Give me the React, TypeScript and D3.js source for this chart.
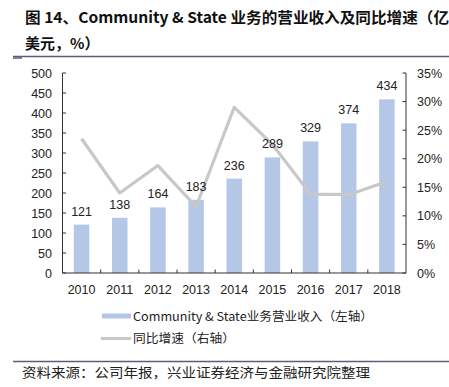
import React from "react";
import * as d3 from "d3";

const years = ["2010", "2011", "2012", "2013", "2014", "2015", "2016", "2017", "2018"];
const revenue = [121, 138, 164, 183, 236, 289, 329, 374, 434];
const growth = [23.5, 14.0, 18.8, 11.6, 29.0, 22.5, 13.8, 13.7, 16.0];
const leftTicks = [0, 50, 100, 150, 200, 250, 300, 350, 400, 450, 500];
const rightTicks = [0, 5, 10, 15, 20, 25, 30, 35];

const W = 449;
const H = 387;
const M = { left: 62.5, right: 406, top: 73, bottom: 273 };

export default function App() {
  const x = d3.scaleBand<string>().domain(years).range([M.left, M.right]).paddingInner(0).paddingOuter(0);
  const yL = d3.scaleLinear().domain([0, 500]).range([M.bottom, M.top]);
  const yR = d3.scaleLinear().domain([0, 35]).range([M.bottom, M.top]);
  const bw = 15.5;
  const cx = (d: string) => (x(d) as number) + x.bandwidth() / 2;
  const line = d3
    .line<number>()
    .x((_, i) => cx(years[i]))
    .y((d) => yR(d));
  const tickFont = "'Liberation Sans', Arial, sans-serif";
  const cjk = "'Noto Sans CJK SC', sans-serif";
  return (
    <svg width={W} height={H} style={{ position: "absolute", left: 0, top: 0, background: "#fff" }}>
      <text x={25} y={23} fontFamily={cjk} fontWeight="bold" fontSize={15} fill="#111" textLength={424} lengthAdjust="spacingAndGlyphs">
        图 14、Community &amp; State 业务的营业收入及同比增速（亿
      </text>
      <text x={25} y={49} fontFamily={cjk} fontWeight="bold" fontSize={15} fill="#111">
        美元，%）
      </text>
      <line x1={13} x2={W} y1={56.5} y2={56.5} stroke="#5c5c82" strokeWidth={1.3} />
      <line x1={13} x2={22} y1={58} y2={58} stroke="#5c5c82" strokeWidth={1.5} />

      {/* bars */}
      {revenue.map((v, i) => (
        <rect key={i} x={cx(years[i]) - bw / 2} y={yL(v)} width={bw} height={yL(0) - yL(v)} fill="#b4c7e7" />
      ))}
      <path d={line(growth) || ""} fill="none" stroke="#c8c8c8" strokeWidth={3.2} strokeLinejoin="round" />
      {revenue.map((v, i) => (
        <text key={"l" + i} x={cx(years[i])} y={yL(v) - 9} textAnchor="middle" fontFamily={tickFont} fontSize={12.5} fill="#222">
          {v}
        </text>
      ))}

      {/* axes */}
      <line x1={M.left} x2={M.left} y1={M.top} y2={M.bottom} stroke="#333" strokeWidth={1} />
      <line x1={M.right} x2={M.right} y1={M.top} y2={M.bottom} stroke="#333" strokeWidth={1} />
      <line x1={M.left} x2={M.right} y1={M.bottom} y2={M.bottom} stroke="#333" strokeWidth={1} />
      {leftTicks.map((t) => (
        <g key={"lt" + t}>
          <line x1={M.left} x2={M.left + 3.5} y1={yL(t)} y2={yL(t)} stroke="#333" />
          <text x={52} y={yL(t) + 4.5} textAnchor="end" fontFamily={tickFont} fontSize={12.5} fill="#222">
            {t}
          </text>
        </g>
      ))}
      {rightTicks.map((t) => (
        <g key={"rt" + t}>
          <line x1={M.right - 3.5} x2={M.right} y1={yR(t)} y2={yR(t)} stroke="#333" />
          <text x={417} y={yR(t) + 4.5} textAnchor="start" fontFamily={tickFont} fontSize={12.5} fill="#222">
            {t + "%"}
          </text>
        </g>
      ))}
      {years.slice(1).map((yr) => (
        <line key={"xt" + yr} x1={x(yr)} x2={x(yr)} y1={M.bottom - 3.5} y2={M.bottom} stroke="#333" />
      ))}
      {years.map((yr) => (
        <text key={"xl" + yr} x={cx(yr)} y={294} textAnchor="middle" fontFamily={tickFont} fontSize={12.5} fill="#222">
          {yr}
        </text>
      ))}

      {/* legend */}
      <rect x={102} y={313.5} width={29} height={5} fill="#b4c7e7" />
      <text x={133} y={321} fontFamily={cjk} fontSize={12} fill="#222" textLength={240} lengthAdjust="spacingAndGlyphs">
        Community &amp; State业务营业收入（左轴）
      </text>
      <line x1={101} x2={131} y1={338.5} y2={338.5} stroke="#c8c8c8" strokeWidth={3} />
      <text x={133} y={343} fontFamily={cjk} fontSize={12} fill="#222" textLength={102} lengthAdjust="spacingAndGlyphs">
        同比增速（右轴）
      </text>

      {/* footer */}
      <line x1={13} x2={W} y1={361.5} y2={361.5} stroke="#5c5c82" strokeWidth={1.3} />
      <text x={22} y={377} fontFamily={cjk} fontSize={13} fill="#222" textLength={348} lengthAdjust="spacingAndGlyphs">
        资料来源：公司年报，兴业证券经济与金融研究院整理
      </text>
    </svg>
  );
}
